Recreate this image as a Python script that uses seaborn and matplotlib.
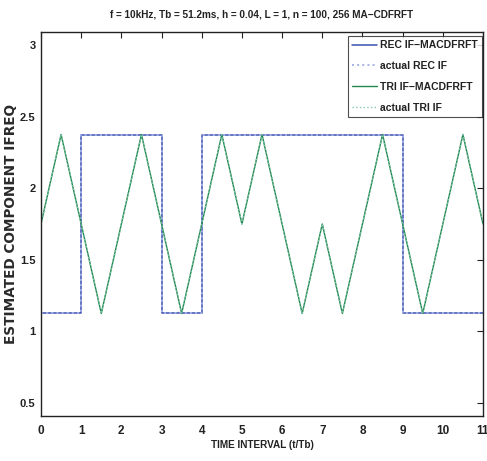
import matplotlib
matplotlib.use("Agg")
import matplotlib.pyplot as plt
import seaborn as sns
import pandas as pd

# Data
rec_t = [0, 1, 3, 4, 9, 11]
rec_f = [1.125, 2.375, 1.125, 2.375, 1.125, 1.125]
tri_t = [0, 0.5, 1.5, 2.5, 3.5, 4.5, 5, 5.5, 6.5, 7, 7.5, 8.5, 9.5, 10.5, 11]
tri_f = [1.75, 2.375, 1.125, 2.375, 1.125, 2.375, 1.75, 2.375, 1.125, 1.75, 1.125, 2.375, 1.125, 2.375, 1.75]
x_ticks = list(range(0, 12))
y_ticks = [0.5, 1, 1.5, 2, 2.5, 3]
y_tick_labels = ["0.5", "1", "1.5", "2", "2.5", "3"]
title = "f = 10kHz, Tb = 51.2ms, h = 0.04, L = 1, n = 100, 256 MA\u2212CDFRFT"
labels = ["REC IF\u2212MACDFRFT", "actual REC IF", "TRI IF\u2212MACDFRFT", "actual TRI IF"]

sns.set_style("white")
plt.rcParams['font.family'] = ['Liberation Sans', 'DejaVu Sans']
plt.rcParams['font.weight'] = 'bold'

fig = plt.figure(figsize=(4.87, 4.61), dpi=100)
ax = fig.add_axes([0.0842, 0.0976, 0.9076, 0.833])

rec = pd.DataFrame({"t": rec_t, "f": rec_f})
tri = pd.DataFrame({"t": tri_t, "f": tri_f})

blue = "#3a50b2"
green = "#22884e"
sns.lineplot(data=rec, x="t", y="f", ax=ax, color=blue, lw=1.1, drawstyle="steps-post",
             estimator=None, sort=False, label=labels[0])
sns.lineplot(data=rec, x="t", y="f", ax=ax, color="#a6b2e4", lw=1.4, ls=":", drawstyle="steps-post",
             estimator=None, sort=False, label=labels[1])
sns.lineplot(data=tri, x="t", y="f", ax=ax, color=green, lw=1.0,
             estimator=None, sort=False, label=labels[2])
sns.lineplot(data=tri, x="t", y="f", ax=ax, color="#86c8b2", lw=1.0, ls=":",
             estimator=None, sort=False, label=labels[3])

ax.set_xlim(0, 11)
ax.set_ylim(0.409, 3.091)
ax.set_xticks(x_ticks)
ax.set_yticks(y_ticks)
ax.set_yticklabels(y_tick_labels)
ax.tick_params(direction="in", top=True, right=True, length=4, width=0.8,
               labelsize=8.5, colors="#222222")
ax.tick_params(axis="x", pad=6.5)
ax.tick_params(axis="y", pad=4.0, labelsize=8)
for lab in ax.get_xticklabels() + ax.get_yticklabels():
    lab.set_fontweight("bold")
for s in ax.spines.values():
    s.set_color("#222222")
    s.set_linewidth(1.0)

ax.set_xlabel("TIME INTERVAL (t/Tb)", fontsize=7.2, fontweight="bold", labelpad=2, color="#222222")
ax.set_ylabel("ESTIMATED COMPONENT IFREQ", fontsize=9.8, fontweight="bold",
              family="DejaVu Sans", color="#2a2a2a")
ax.yaxis.set_label_coords(-0.052, 0.5)
ax.set_title(title, fontsize=7.2, fontweight="bold", pad=10.5, color="#222222")

leg = ax.legend(loc="upper right", bbox_to_anchor=(482 / 487, 1 - 36 / 461),
                bbox_transform=fig.transFigure, borderaxespad=0,
                fontsize=7.5, frameon=True, fancybox=False,
                edgecolor="#222222", handlelength=2.4, borderpad=0.4, labelspacing=1.05,
                handletextpad=0.3)
leg.get_frame().set_linewidth(0.8)
for t in leg.get_texts():
    t.set_fontweight("bold")
    t.set_color("#222222")

fig.savefig("out.png", dpi=100)
